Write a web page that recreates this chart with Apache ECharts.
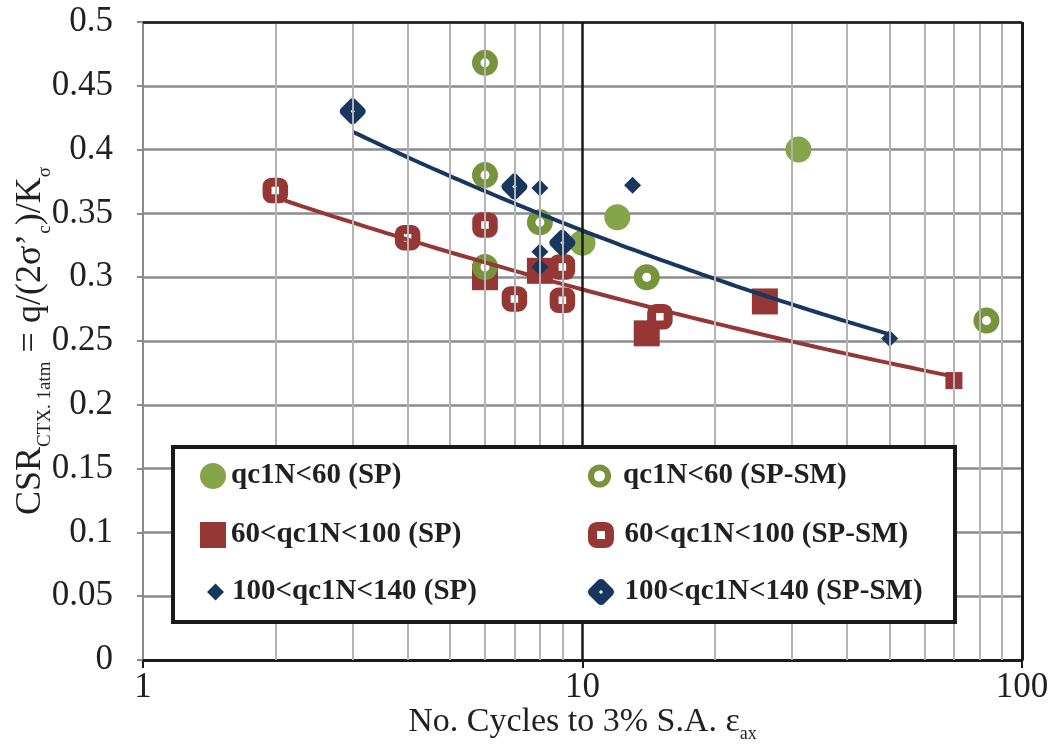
<!DOCTYPE html>
<html>
<head>
<meta charset="utf-8">
<script src="https://cdn.jsdelivr.net/npm/echarts@6/dist/echarts.min.js"></script>
<style>
html,body{margin:0;padding:0;background:#fff;}
#chart{width:1050px;height:750px;}
</style>
</head>
<body>
<div id="chart"></div>
<script>
// ---- data ----
const seriesNames = [
  'qc1N<60 (SP)', 'qc1N<60 (SP-SM)',
  '60<qc1N<100 (SP)', '60<qc1N<100 (SP-SM)',
  '100<qc1N<140 (SP)', '100<qc1N<140 (SP-SM)'
];
const greenSP   = [[31, 0.400], [12, 0.347], [10, 0.327]];
const greenSPSM = [[6, 0.468], [6, 0.380], [6, 0.308], [8, 0.343], [14, 0.300], [83, 0.266]];
const redSP     = [[6, 0.300], [8, 0.305], [14, 0.256], [26, 0.281], [70, 0.219]];
const redSPSM   = [[2, 0.368], [4, 0.331], [6, 0.341], [7, 0.283], [9, 0.308], [9, 0.282], [15, 0.269]];
const blueSP    = [[8, 0.370], [13, 0.372], [8, 0.320], [8, 0.308], [50, 0.252]];
const blueSPSM  = [[3, 0.430], [7, 0.371], [9, 0.327]];
const xMinorGrid = [2, 3, 4, 5, 6, 7, 8, 9, 20, 30, 40, 50, 60, 70, 80, 90];
const xMajorGrid = [10, 100];
const yTop = 0.5;

// ---- power-law trendline (least squares in log-log), as in the spreadsheet ----
function powerFit(pts) {
  const n = pts.length;
  let sx = 0, sy = 0;
  pts.forEach(p => { sx += Math.log(p[0]); sy += Math.log(p[1]); });
  const mx = sx / n, my = sy / n;
  let sxy = 0, sxx = 0;
  pts.forEach(p => {
    const dx = Math.log(p[0]) - mx, dy = Math.log(p[1]) - my;
    sxy += dx * dy; sxx += dx * dx;
  });
  const b = sxy / sxx, a = Math.exp(my - b * mx);
  const xs = pts.map(p => p[0]);
  const x0 = Math.min.apply(null, xs), x1 = Math.max.apply(null, xs);
  const out = [];
  const N = 80;
  for (let i = 0; i <= N; i++) {
    const x = Math.exp(Math.log(x0) + (Math.log(x1) - Math.log(x0)) * i / N);
    out.push([x, a * Math.pow(x, b)]);
  }
  return out;
}
const redTrend = powerFit(redSP.concat(redSPSM));
const blueTrend = powerFit(blueSP.concat(blueSPSM));

const FONT = 'Liberation Serif';
const TXT = '#231f20';
const GREEN = '#86a44a';
const GREEN2 = '#77933c';
const RED = '#953735';
const BLUE = '#17375e';

const chart = echarts.init(document.getElementById('chart'), null, {renderer: 'canvas'});

function legendItem(name, left, top, w, h, pad, itemStyle) {
  return {
    data: [name],
    left: left, top: top,
    orient: 'vertical',
    itemWidth: w, itemHeight: h,
    padding: 0,
    z: 12,
    selectedMode: false,
    itemStyle: itemStyle || {},
    textStyle: {fontFamily: FONT, fontWeight: 'bold', fontSize: 29, color: TXT, lineHeight: 30, padding: [0, 0, 0, pad]}
  };
}

const option = {
  animation: false,
  backgroundColor: '#fff',
  grid: {left: 143, right: 28, top: 22, bottom: 90, containLabel: false, outerBoundsMode: 'none'},
  xAxis: {
    type: 'log', logBase: 10, min: 1, max: 100,
    axisLine: {show: true, lineStyle: {color: '#1a1a1a', width: 3}},
    axisTick: {show: true, inside: false, length: 8, lineStyle: {color: '#1a1a1a', width: 2}},
    axisLabel: {fontFamily: FONT, fontSize: 35, color: TXT, margin: 10},
    splitLine: {show: false},
    minorTick: {show: false},
    name: '{b|No. Cycles to 3% S.A. ε}{s|ax}',
    nameLocation: 'middle',
    nameMoveOverlap: false,
    nameGap: 45,
    nameTextStyle: {
      rich: {
        b: {fontFamily: FONT, fontSize: 34, color: TXT, lineHeight: 38, verticalAlign: 'top'},
        s: {fontFamily: FONT, fontSize: 18, color: TXT, lineHeight: 18, verticalAlign: 'bottom'}
      }
    }
  },
  yAxis: {
    type: 'value', min: 0, max: 0.5, interval: 0.05,
    axisLine: {show: true, lineStyle: {color: '#8a8a8a', width: 2}},
    axisTick: {show: true, inside: false, length: 6, lineStyle: {color: '#8a8a8a', width: 2}},
    axisLabel: {fontFamily: FONT, fontSize: 35, color: TXT, margin: 30},
    splitLine: {show: true, lineStyle: {color: '#8c8c8c', width: 2.5}},
    name: '{b|CSR}{s|CTX. 1atm}{b| = q/(2σ’}{s|c}{b|)/K}{s|σ}',
    nameLocation: 'middle',
    nameRotate: 90,
    nameMoveOverlap: false,
    nameGap: 88,
    nameTextStyle: {
      rich: {
        b: {fontFamily: FONT, fontSize: 36, color: TXT, lineHeight: 42, verticalAlign: 'top'},
        s: {fontFamily: FONT, fontSize: 19, color: TXT, lineHeight: 19, verticalAlign: 'bottom'}
      }
    }
  },
  graphic: {
    elements: [{
      type: 'rect', z: 10, silent: true,
      shape: {x: 173, y: 447, width: 782, height: 175},
      style: {fill: '#fff', stroke: '#1a1a1a', lineWidth: 4}
    }]
  },
  legend: [
    legendItem(seriesNames[0], 200, 461, 26, 26, 0),
    legendItem(seriesNames[1], 588, 461, 17, 17, 10, {borderWidth: 6}),
    legendItem(seriesNames[2], 200, 520, 26, 26, 0),
    legendItem(seriesNames[3], 588, 520, 17, 17, 10, {borderWidth: 9}),
    legendItem(seriesNames[4], 207, 577, 17, 17, 3),
    legendItem(seriesNames[5], 588, 577, 17, 17, 10, {borderWidth: 9})
  ],
  series: [
    {
      name: 'grid', type: 'line', data: [], z: 1, silent: true,
      markLine: {
        silent: true, symbol: ['none', 'none'], label: {show: false}, animation: false,
        data: xMinorGrid.map(v => ({xAxis: v, lineStyle: {color: '#b4b4b4', width: 2, type: 'solid'}}))
          .concat(xMajorGrid.map(v => ({xAxis: v, lineStyle: {color: '#1a1a1a', width: v === 100 ? 3 : 2.5, type: 'solid'}})))
          .concat([{yAxis: yTop, lineStyle: {color: '#1a1a1a', width: 2.5, type: 'solid'}}])
      }
    },
    {
      name: seriesNames[2], type: 'scatter', z: 3, data: redSP,
      symbol: 'rect', symbolSize: v => (v[0] > 50 ? 17 : 26),
      itemStyle: {color: RED, opacity: 1}
    },
    {
      name: seriesNames[3], type: 'scatter', z: 3, data: redSPSM,
      symbol: 'roundRect', symbolSize: 16.5,
      itemStyle: {color: '#fff', borderColor: RED, borderWidth: 9, opacity: 1}
    },
    {
      name: seriesNames[0], type: 'scatter', z: 3, data: greenSP,
      symbol: 'circle', symbolSize: 26,
      itemStyle: {color: GREEN, opacity: 1}
    },
    {
      name: seriesNames[1], type: 'scatter', z: 3, data: greenSPSM,
      symbol: 'circle', symbolSize: 17.5,
      itemStyle: {color: '#fff', borderColor: GREEN2, borderWidth: 8.5, opacity: 1}
    },
    {
      name: seriesNames[4], type: 'scatter', z: 3, data: blueSP,
      symbol: 'diamond', symbolSize: 17,
      itemStyle: {color: BLUE, opacity: 1}
    },
    {
      name: seriesNames[5], type: 'scatter', z: 3, data: blueSPSM,
      symbol: 'diamond', symbolSize: 17,
      itemStyle: {color: '#fff', borderColor: BLUE, borderWidth: 9, borderJoin: 'round', opacity: 1}
    },
    {
      name: 'red trend', type: 'line', z: 4, data: redTrend, showSymbol: false, symbol: 'none',
      silent: true, lineStyle: {color: RED, width: 4}, smooth: false
    },
    {
      name: 'blue trend', type: 'line', z: 4, data: blueTrend, showSymbol: false, symbol: 'none',
      silent: true, lineStyle: {color: BLUE, width: 4}, smooth: false
    }
  ]
};
chart.setOption(option);
</script>
</body>
</html>
